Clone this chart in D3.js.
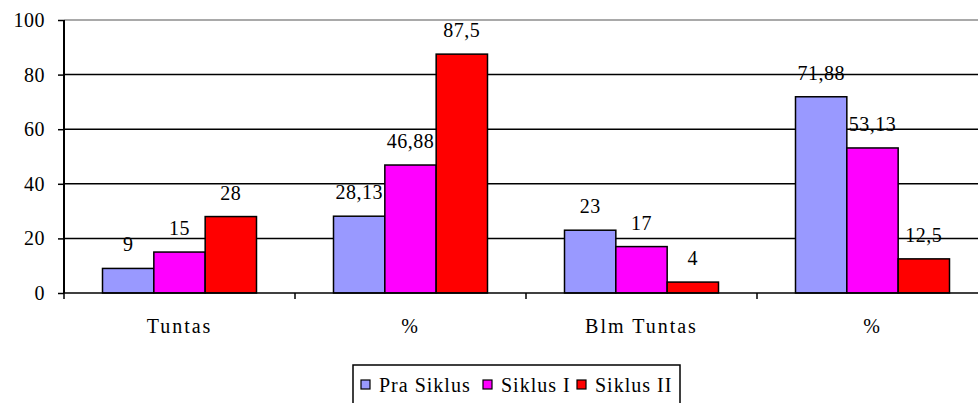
<!DOCTYPE html>
<html>
<head>
<meta charset="utf-8">
<script src="https://cdn.jsdelivr.net/npm/d3@7"></script>
<style>
    body { margin: 0; background: #fff; }
    svg { display: block; }
</style>
</head>
<body>
<div id="chart"></div>
<script>
var categories = ["Tuntas", "%", "Blm Tuntas", "%"];
var seriesNames = ["Pra Siklus", "Siklus I", "Siklus II"];
var praSiklus = [9, 28.13, 23, 71.88];
var siklusI = [15, 46.88, 17, 53.13];
var siklusII = [28, 87.5, 4, 12.5];
var yTicks = [0, 20, 40, 60, 80, 100];
var colors = ["#9999ff", "#ff00ff", "#ff0000"];

(function () {
    var width = 978,
        height = 403,
        plotLeft = 64,
        plotTop = 20,
        plotBottom = 293,
        plotRight = 988,
        serif = "'Liberation Serif', 'Times New Roman', 'DejaVu Serif', serif",
        values = [praSiklus, siklusI, siklusII];

    var svg = d3.select("#chart").append("svg")
        .attr("width", width)
        .attr("height", height)
        .attr("font-family", serif);

    var x0 = d3.scaleBand()
        .domain(d3.range(categories.length))
        .range([plotLeft, plotRight]);

    var x1 = d3.scaleBand()
        .domain(d3.range(seriesNames.length))
        .range([0, x0.bandwidth()])
        .paddingOuter(0.75);

    var y = d3.scaleLinear()
        .domain([0, 100])
        .range([plotBottom, plotTop]);

    // gridlines
    svg.append("g")
        .selectAll("line")
        .data(yTicks.filter(function (d) { return d > 0 && d < 100; }))
        .join("line")
        .attr("x1", plotLeft)
        .attr("x2", width)
        .attr("y1", function (d) { return y(d); })
        .attr("y2", function (d) { return y(d); })
        .style("stroke", "#000")
        .style("stroke-width", 1.5);

    // plot area border at the top
    svg.append("line")
        .attr("x1", plotLeft).attr("x2", width)
        .attr("y1", y(100)).attr("y2", y(100))
        .style("stroke", "#8c8c8c")
        .style("stroke-width", 1.5);

    var rows = function (d, i) {
        return values.map(function (s, j) { return {s: j, v: s[i]}; });
    };

    // bars
    var groups = svg.append("g")
        .selectAll("g")
        .data(categories)
        .join("g")
        .attr("transform", function (d, i) { return "translate(" + x0(i) + ",0)"; });

    groups.selectAll("rect")
        .data(rows)
        .join("rect")
        .attr("x", function (d) { return x1(d.s); })
        .attr("width", x1.bandwidth())
        .attr("y", function (d) { return y(d.v); })
        .attr("height", function (d) { return y(0) - y(d.v); })
        .style("fill", function (d) { return colors[d.s]; })
        .style("stroke", "#000")
        .style("stroke-width", 1.5);

    // value labels
    groups.selectAll("text")
        .data(rows)
        .join("text")
        .attr("x", function (d) { return x1(d.s) + x1.bandwidth() / 2; })
        .attr("y", function (d) { return y(d.v) - 17; })
        .attr("text-anchor", "middle")
        .style("font-family", serif)
        .style("font-size", "20px")
        .style("letter-spacing", "0.5px")
        .text(function (d) { return String(d.v).replace(".", ","); });

    // y axis
    svg.append("g")
        .attr("transform", "translate(" + plotLeft + ",0)")
        .call(d3.axisLeft(y).tickValues(yTicks).tickSize(6).tickPadding(13))
        .call(function (g) {
            g.attr("font-family", serif).attr("font-size", 20);
            g.select(".domain").remove();
            g.selectAll("line").style("stroke", "#000").style("stroke-width", 1.5);
            g.selectAll("text")
                .style("font-family", serif)
                .style("font-size", "20px")
                .style("letter-spacing", "0.5px");
        });

    svg.append("line")
        .attr("x1", plotLeft).attr("x2", plotLeft)
        .attr("y1", plotTop).attr("y2", plotBottom)
        .style("stroke", "#000")
        .style("stroke-width", 2);

    // x axis
    svg.append("line")
        .attr("x1", plotLeft).attr("x2", width)
        .attr("y1", plotBottom).attr("y2", plotBottom)
        .style("stroke", "#000")
        .style("stroke-width", 1.5);

    svg.append("g")
        .selectAll("line")
        .data(d3.range(categories.length + 1))
        .join("line")
        .attr("x1", function (i) { return plotLeft + i * x0.step(); })
        .attr("x2", function (i) { return plotLeft + i * x0.step(); })
        .attr("y1", plotBottom)
        .attr("y2", plotBottom + 6)
        .style("stroke", "#000")
        .style("stroke-width", 1.5);

    svg.append("g")
        .selectAll("text")
        .data(categories)
        .join("text")
        .attr("x", function (d, i) { return x0(i) + x0.bandwidth() / 2; })
        .attr("y", 333)
        .attr("text-anchor", "middle")
        .style("font-family", serif)
        .style("font-size", "20px")
        .style("letter-spacing", "2px")
        .text(function (d) { return d; });

    // legend
    var legend = svg.append("g");

    legend.append("rect")
        .attr("x", 353)
        .attr("y", 365)
        .attr("width", 327)
        .attr("height", 60)
        .style("fill", "#fff")
        .style("stroke", "#000")
        .style("stroke-width", 1.5);

    var legendX = [361, 483, 577];

    var items = legend.selectAll("g")
        .data(seriesNames)
        .join("g")
        .attr("transform", function (d, i) { return "translate(" + legendX[i] + ",380)"; });

    items.append("rect")
        .attr("width", 9)
        .attr("height", 9)
        .style("fill", function (d, i) { return colors[i]; })
        .style("stroke", "#000")
        .style("stroke-width", 1.2);

    items.append("text")
        .attr("x", 18)
        .attr("y", 12)
        .style("font-family", serif)
        .style("font-size", "20px")
        .style("letter-spacing", "1px")
        .text(function (d) { return d; });
}());
</script>
</body>
</html>
